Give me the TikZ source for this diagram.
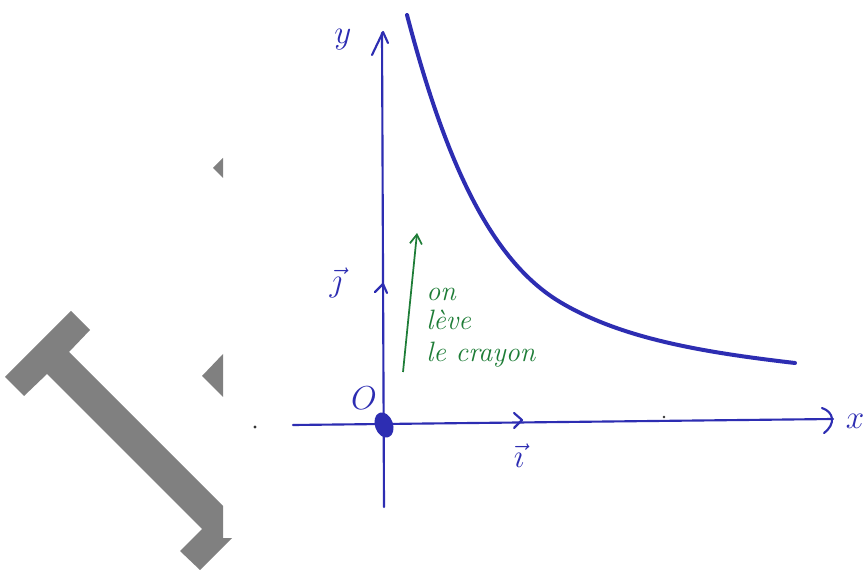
\documentclass[tikz,border=0pt]{standalone}
\usetikzlibrary{arrows.meta}
\definecolor{ink}{RGB}{45,45,178}
\definecolor{greenink}{RGB}{30,125,55}
\definecolor{bargrey}{RGB}{128,128,128}
\tikzset{
  axisline/.style={draw=ink, line width=1.6pt, line cap=round, line join=round},
  curveline/.style={draw=ink, line width=3pt, line cap=round},
  inklabel/.style={text=ink, font=\itshape\fontsize{24}{26}\selectfont, inner sep=0pt},
  greenlabel/.style={text=greenink, font=\itshape\fontsize{21}{22}\selectfont, inner sep=0pt, anchor=base west},
  greyshape/.style={fill=bargrey, draw=none}
}
\begin{document}
\begin{tikzpicture}[x=0.75pt,y=-0.75pt]
\useasboundingbox (0,0) rectangle (868,570);
\fill[white] (0,0) rectangle (868,570);
% grey shapes
\fill[greyshape] (5,377) -- (71,311) -- (90,330) -- (69,352) -- (223,506) -- (223,538) -- (232,538)
  -- (200,570) -- (180,551) -- (202,529) -- (47,374) -- (24,396) -- cycle;
\fill[greyshape] (213,168) -- (223,158) -- (223,178) -- cycle;
\fill[greyshape] (202,376) -- (223,354) -- (223,397) -- cycle;
\fill[black!80] (255,427) circle (1.6);
% coordinates
\coordinate (xl) at (293,425);
\coordinate (xr) at (833,419);
\coordinate (yb) at (384,507);
\coordinate (yt) at (382,33);
\coordinate (o) at (384,425);
% axes
\draw[axisline] (xl) -- (xr);
\draw[axisline] (yb) -- (yt);
% x arrow tip ")"
\draw[axisline] (822,408) .. controls (834,412) and (836,424) .. (824,433);
% y arrow tip
\draw[axisline] (372,55) -- (383,32) -- (388,43);
% origin blob
\fill[ink, rotate around={20:(384,425)}] (384,425) ellipse (9 and 13);
% unit vectors
\draw[axisline] (514,413) -- (522,420) -- (514,428);
\draw[axisline] (375,292) -- (383,284) -- (387,293);
% curve
\draw[curveline] (407,15) .. controls (445,160) and (490,260) .. (560,302)
  .. controls (620,338) and (700,352) .. (795,363);
% small marks
\fill[black!80] (664,417) circle (1.3);
% labels
\node[inklabel, font=\itshape\fontsize{34}{36}\selectfont] (ylab) at (343,40) {$y$};
\node[inklabel] (xlab) at (855,421) {$x$};
\node[inklabel] (olab) at (364,398) {$O$};
\node[inklabel, font=\itshape\fontsize{28}{30}\selectfont] (ilab) at (519,456) {$\vec{\imath}$};
\node[inklabel, font=\itshape\fontsize{30}{32}\selectfont] (jlab) at (336,283) {$\vec{\jmath}$};
% green arrow and text
\coordinate (ga) at (403,372);
\coordinate (gb) at (417,233);
\draw[draw=greenink, line width=1.3pt, -{Straight Barb[length=7pt,width=9pt]}] (ga) -- (gb);
\node[greenlabel] (t1) at (426,301) {on};
\node[greenlabel] (t2) at (426,330) {lève};
\node[greenlabel] (t3) at (426,362) {le crayon};
\end{tikzpicture}
\end{document}
